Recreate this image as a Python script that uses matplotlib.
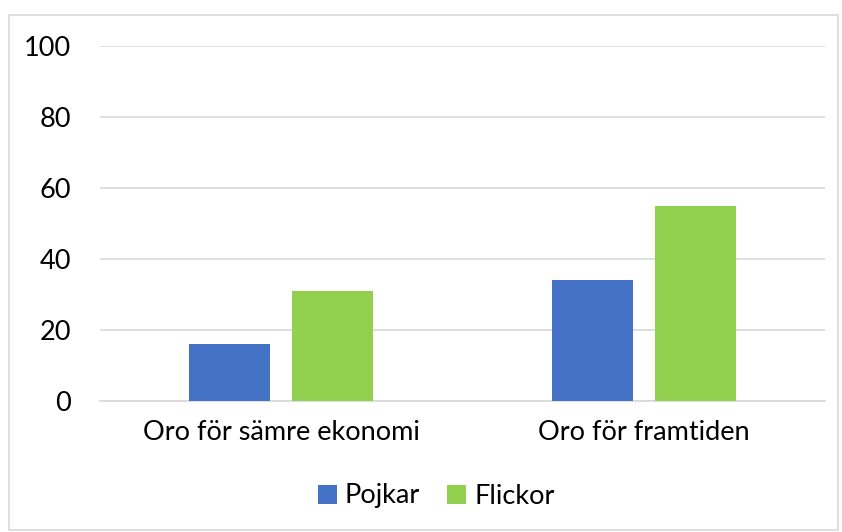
import numpy as np
import matplotlib.pyplot as plt
from matplotlib.patches import Rectangle

plt.rcParams['font.family'] = ['Lato', 'DejaVu Sans']

# Data
categories = ["Oro för sämre ekonomi", "Oro för framtiden"]
pojkar = [16, 34]
flickor = [31, 55]
yticks = [0, 20, 40, 60, 80, 100]

fig = plt.figure(figsize=(8.42, 5.32), dpi=100)
ax = fig.add_axes([100 / 842, 1 - 401 / 532, 725 / 842, 355 / 532])

x = np.arange(len(categories))
w = 0.224
gap = 0.06
ax.bar(x - (w + gap) / 2, pojkar, w, color='#4472C4', label='Pojkar', zorder=3)
ax.bar(x + (w + gap) / 2, flickor, w, color='#92D050', label='Flickor', zorder=3)

ax.set_xlim(-0.5, 1.5)
ax.set_ylim(0, 100)
ax.set_yticks(yticks)
ax.set_xticks(x)
ax.set_xticklabels(categories)
ax.tick_params(axis='both', length=0, labelsize=19.5, colors='black')
ax.tick_params(axis='y', pad=21)
ax.tick_params(axis='x', pad=14)
ax.yaxis.grid(True, color='#D9D9D9', linewidth=1.2, zorder=0)
for s in ['top', 'right', 'left']:
    ax.spines[s].set_visible(False)
ax.spines['bottom'].set_color('#D9D9D9')
ax.spines['bottom'].set_linewidth(1.2)

fig.legend(loc='center', bbox_to_anchor=(436 / 842, 1 - 496 / 532), ncol=2,
           frameon=False, fontsize=19.5, handlelength=0.7, handleheight=0.7,
           handletextpad=0.3, columnspacing=1.0)

fig.patches.append(Rectangle((9 / 842, 2 / 532), 829 / 842, 515 / 532,
                             transform=fig.transFigure, fill=False,
                             edgecolor='#D9D9D9', linewidth=1.2))

fig.savefig('out.png', dpi=100)
